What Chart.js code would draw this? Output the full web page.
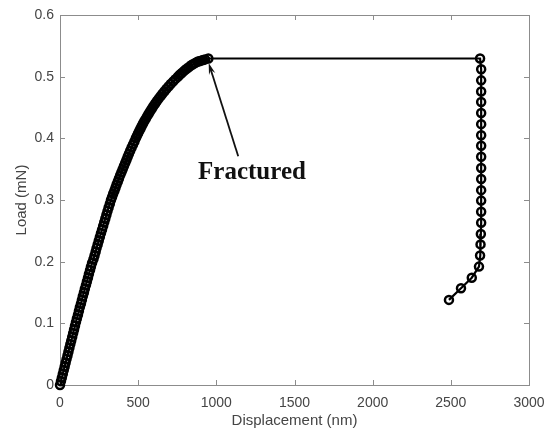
<!DOCTYPE html>
<html><head><meta charset="utf-8">
<script src="https://cdn.jsdelivr.net/npm/chart.js@4/dist/chart.umd.min.js"></script>
<style>html,body{margin:0;padding:0;background:#fff}#wrap{width:557px;height:435px}</style>
</head><body><div id="wrap"><canvas id="c" width="557" height="435"></canvas></div>
<script>
// Loading branch (nm, mN)
const loadX = [0,6,12,18,24,30,36,42,48,54,60,66,72,78,84,90,96,102,108,115,121,127,134,140,146,153,159,166,172,179,185,192,198,205,
  214,221,228,234,241,248,255,262,269,276,283,290,297,304,311,319,326,
  333,340,348,355,362,370,377,385,393,401,409,417,425,433,441,449,458,467,476,485,
  492,499,507,515,523,531,540,549,558,567,577,587,597,608,619,630,642,654,667,680,694,708,723,738,754,
  766,779,792,806,821,837,850,864,878,890,902,915,928,949];
const loadY = [0,0.006,0.012,0.018,0.024,0.030,0.036,0.042,0.048,0.054,0.060,0.066,0.072,0.078,0.084,0.090,0.096,0.102,0.108,0.114,0.120,0.126,0.132,0.138,0.144,0.150,0.156,0.162,0.168,0.174,0.180,0.186,0.192,0.198,
  0.204,0.210,0.216,0.222,0.228,0.234,0.240,0.246,0.252,0.258,0.264,0.270,0.276,0.282,0.288,0.294,0.300,
  0.305,0.310,0.315,0.320,0.325,0.330,0.335,0.340,0.345,0.350,0.355,0.360,0.365,0.370,0.375,0.380,0.385,0.390,0.395,0.400,
  0.404,0.408,0.412,0.416,0.420,0.424,0.428,0.432,0.436,0.440,0.444,0.448,0.452,0.456,0.460,0.464,0.468,0.472,0.476,0.480,0.484,0.488,0.492,0.496,0.500,
  0.503,0.506,0.509,0.512,0.515,0.518,0.520,0.522,0.524,0.525,0.526,0.527,0.528,0.5295];
// Post-fracture branch
const afterX = [2687,2694,2694,2694,2694,2694,2694,2694,2694,2694,2694,2694,2694,2694,2694,2694,2692,2690,2687,2680,2634,2565,2488];
const afterY = [0.5295,0.512,0.494,0.476,0.459,0.441,0.423,0.405,0.388,0.370,0.352,0.334,0.316,0.299,0.281,0.263,0.245,0.228,0.210,0.192,0.174,0.157,0.138];

const xTicks = [0,500,1000,1500,2000,2500,3000];
const yTicks = [0,0.1,0.2,0.3,0.4,0.5,0.6];
const xTitle = 'Displacement (nm)';
const yTitle = 'Load (mN)';
const noteText = 'Fractured';
const noteAt = {x:1228, y:0.344};
const arrowFrom = {x:1140, y:0.371};
const arrowTo = {x:951, y:0.522};

const points = loadX.map((x,i)=>({x, y:loadY[i]})).concat(afterX.map((x,i)=>({x, y:afterY[i]})));

const AXIS_COLOR = '#8c8c8c';
const TEXT_COLOR = '#454545';
const SANS = '"Liberation Sans", Arial, sans-serif';

const boxPlugin = {
  id:'boxTicks',
  beforeDatasetsDraw(chart){
    const {ctx, chartArea:a, scales:{x, y}} = chart;
    ctx.save();
    ctx.strokeStyle = AXIS_COLOR; ctx.lineWidth = 1;
    ctx.strokeRect(a.left+0.5, a.top+0.5, a.right-a.left, a.bottom-a.top);
    ctx.beginPath();
    const L = 5;
    xTicks.forEach(v=>{const px=Math.round(x.getPixelForValue(v))+0.5;
      ctx.moveTo(px,a.bottom); ctx.lineTo(px,a.bottom-L);
      ctx.moveTo(px,a.top); ctx.lineTo(px,a.top+L);});
    yTicks.forEach(v=>{const py=Math.round(y.getPixelForValue(v))+0.5;
      ctx.moveTo(a.left,py); ctx.lineTo(a.left+L,py);
      ctx.moveTo(a.right,py); ctx.lineTo(a.right-L,py);});
    ctx.stroke();
    ctx.restore();
  },
  afterDatasetsDraw(chart){
    const {ctx, scales:{x, y}} = chart;
    ctx.save();
    ctx.fillStyle = '#111'; ctx.strokeStyle = '#111';
    ctx.font = 'bold 25px "Liberation Serif", "Times New Roman", serif';
    ctx.textAlign = 'center'; ctx.textBaseline = 'middle';
    ctx.fillText(noteText, x.getPixelForValue(noteAt.x), y.getPixelForValue(noteAt.y));
    const x1=x.getPixelForValue(arrowFrom.x), y1=y.getPixelForValue(arrowFrom.y);
    const x2=x.getPixelForValue(arrowTo.x), y2=y.getPixelForValue(arrowTo.y);
    const ang=Math.atan2(y2-y1,x2-x1);
    ctx.lineWidth=1.8;
    ctx.beginPath(); ctx.moveTo(x1,y1);
    ctx.lineTo(x2-Math.cos(ang)*6, y2-Math.sin(ang)*6); ctx.stroke();
    const hl=12, hw=0.28;
    ctx.beginPath(); ctx.moveTo(x2,y2);
    ctx.lineTo(x2-hl*Math.cos(ang-hw), y2-hl*Math.sin(ang-hw));
    ctx.lineTo(x2-hl*0.6*Math.cos(ang), y2-hl*0.6*Math.sin(ang));
    ctx.lineTo(x2-hl*Math.cos(ang+hw), y2-hl*Math.sin(ang+hw));
    ctx.closePath(); ctx.fill();
    ctx.restore();
  }
};

new Chart(document.getElementById('c'), {
  type:'scatter',
  data:{datasets:[{
    data:points, showLine:true, borderColor:'#000', borderWidth:2.2, tension:0,
    pointStyle:'circle', pointRadius:4, pointBorderWidth:2.5,
    pointBorderColor:'#000', pointBackgroundColor:'rgba(0,0,0,0)',
    pointHoverRadius:4, clip:false
  }]},
  options:{
    responsive:false, devicePixelRatio:1, animation:false,
    layout:{padding:{top:15, right:28, left:0, bottom:0}},
    plugins:{legend:{display:false}, tooltip:{enabled:false}},
    scales:{
      x:{type:'linear', min:0, max:3000,
        afterBuildTicks:s=>{s.ticks = xTicks.map(v=>({value:v}));},
        afterFit:s=>{s.height=50;},
        grid:{display:false, drawTicks:false}, border:{display:false},
        ticks:{padding:10, color:TEXT_COLOR, font:{family:SANS, size:14}, maxRotation:0, callback:v=>String(v)},
        title:{display:true, text:xTitle, color:TEXT_COLOR, font:{family:SANS, size:15}, padding:{top:0,bottom:5}}
      },
      y:{type:'linear', min:0, max:0.6,
        afterBuildTicks:s=>{s.ticks = yTicks.map(v=>({value:v}));},
        afterFit:s=>{s.width=60;},
        grid:{display:false, drawTicks:false}, border:{display:false},
        ticks:{padding:6, color:TEXT_COLOR, font:{family:SANS, size:14}, callback:v=>String(v)},
        title:{display:true, text:yTitle, color:TEXT_COLOR, font:{family:SANS, size:15}, padding:{top:13,bottom:0}}
      }
    }
  },
  plugins:[boxPlugin]
});
</script></body></html>
